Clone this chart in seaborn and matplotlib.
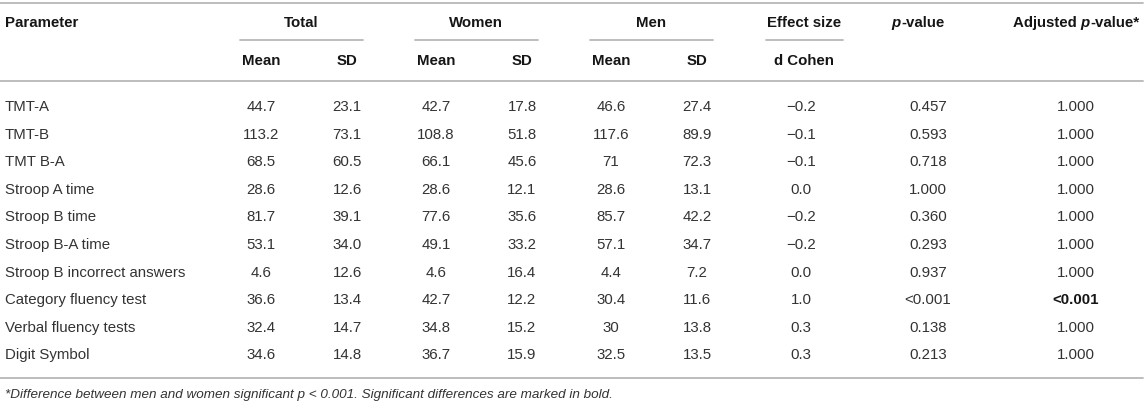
import matplotlib
matplotlib.use("Agg")
import matplotlib.pyplot as plt
import seaborn as sns
import pandas as pd

# Table data
params = ["TMT-A", "TMT-B", "TMT B-A", "Stroop A time", "Stroop B time",
          "Stroop B-A time", "Stroop B incorrect answers", "Category fluency test",
          "Verbal fluency tests", "Digit Symbol"]
total_mean = ["44.7", "113.2", "68.5", "28.6", "81.7", "53.1", "4.6", "36.6", "32.4", "34.6"]
total_sd = ["23.1", "73.1", "60.5", "12.6", "39.1", "34.0", "12.6", "13.4", "14.7", "14.8"]
women_mean = ["42.7", "108.8", "66.1", "28.6", "77.6", "49.1", "4.6", "42.7", "34.8", "36.7"]
women_sd = ["17.8", "51.8", "45.6", "12.1", "35.6", "33.2", "16.4", "12.2", "15.2", "15.9"]
men_mean = ["46.6", "117.6", "71", "28.6", "85.7", "57.1", "4.4", "30.4", "30", "32.5"]
men_sd = ["27.4", "89.9", "72.3", "13.1", "42.2", "34.7", "7.2", "11.6", "13.8", "13.5"]
cohen_d = ["\u22120.2", "\u22120.1", "\u22120.1", "0.0", "\u22120.2", "\u22120.2", "0.0", "1.0", "0.3", "0.3"]
p_value = ["0.457", "0.593", "0.718", "1.000", "0.360", "0.293", "0.937", "<0.001", "0.138", "0.213"]
adj_p = ["1.000", "1.000", "1.000", "1.000", "1.000", "1.000", "1.000", "<0.001", "1.000", "1.000"]
bold_adj = [False] * 7 + [True, False, False]

footnote = ("*Difference between men and women significant p < 0.001. "
            "Significant differences are marked in bold.")

df = pd.DataFrame({
    "param": params, "tm": total_mean, "ts": total_sd, "wm": women_mean,
    "ws": women_sd, "mm": men_mean, "ms": men_sd, "d": cohen_d,
    "p": p_value, "adj": adj_p, "bold": bold_adj,
})

sns.set_theme(style="white")
plt.rcParams['font.family'] = ['Liberation Sans', 'DejaVu Sans']

W, H = 1146, 406
fig = plt.figure(figsize=(W / 100, H / 100), dpi=100)
ax = fig.add_axes([0, 0, 1, 1])
ax.set_xlim(0, W)
ax.set_ylim(H, 0)
ax.axis('off')

FS = 10.8
TXT = "#333333"
HDR = "#151515"
LINE = "#b8b8b8"

# column centres (pixels)
cols = {"tm": 261, "ts": 347, "wm": 436, "ws": 522, "mm": 611, "ms": 697,
        "d": 801, "p": 928, "adj": 1076}

renderer = fig.canvas.get_renderer()


def pieces(x, y, parts, ha="center", size=FS, color=HDR):
    # draw text built from (string, style) parts side by side
    widths = []
    for s, st in parts:
        t = ax.text(0, 0, s, fontsize=size, fontweight="bold", fontstyle=st)
        bb = t.get_window_extent(renderer)
        widths.append(bb.width)
        t.remove()
    total = sum(widths)
    x0 = x - total / 2 if ha == "center" else x
    for (s, st), w in zip(parts, widths):
        ax.text(x0, y, s, fontsize=size, fontweight="bold", fontstyle=st,
                color=color, ha="left", va="baseline")
        x0 += w


# rules
ax.plot([0, 1143], [4, 4], color=LINE, lw=1.3)
ax.plot([0, 1143], [82, 82], color=LINE, lw=1.3)
ax.plot([0, 1143], [379, 379], color=LINE, lw=1.3)
for x0, x1 in [(240, 363), (415, 538), (590, 713), (766, 843)]:
    ax.plot([x0, x1], [41, 41], color=LINE, lw=1.3)

# header row 1
y1 = 27
ax.text(5, y1, "Parameter", fontsize=FS, fontweight="bold", color=HDR, va="baseline")
for lab, xc in [("Total", 301), ("Women", 476), ("Men", 651), ("Effect size", 804)]:
    ax.text(xc, y1, lab, fontsize=FS, fontweight="bold", color=HDR,
            ha="center", va="baseline")
pieces(918, y1, [("p", "italic"), ("-value", "normal")])
pieces(1076, y1, [("Adjusted ", "normal"), ("p", "italic"), ("-value*", "normal")])

# header row 2
y2 = 65
for key, lab in [("tm", "Mean"), ("ts", "SD"), ("wm", "Mean"), ("ws", "SD"),
                 ("mm", "Mean"), ("ms", "SD")]:
    ax.text(cols[key], y2, lab, fontsize=FS, fontweight="bold", color=HDR,
            ha="center", va="baseline")
ax.text(804, y2, "d Cohen", fontsize=FS, fontweight="bold", color=HDR,
        ha="center", va="baseline")

# body
for i, row in df.iterrows():
    yb = 106 + 27.6 * i + 5
    ax.text(5, yb, row["param"], fontsize=FS, color=TXT, va="baseline")
    for key in ["tm", "ts", "wm", "ws", "mm", "ms", "d", "p"]:
        ax.text(cols[key], yb, row[key], fontsize=FS, color=TXT,
                ha="center", va="baseline")
    ax.text(cols["adj"], yb, row["adj"], fontsize=FS,
            color=HDR if row["bold"] else TXT,
            fontweight="bold" if row["bold"] else "normal",
            ha="center", va="baseline")

ax.text(5, 398, footnote, fontsize=9.7, fontstyle="italic", color=TXT, va="baseline")

fig.savefig("out.png", dpi=100)
plt.close(fig)
